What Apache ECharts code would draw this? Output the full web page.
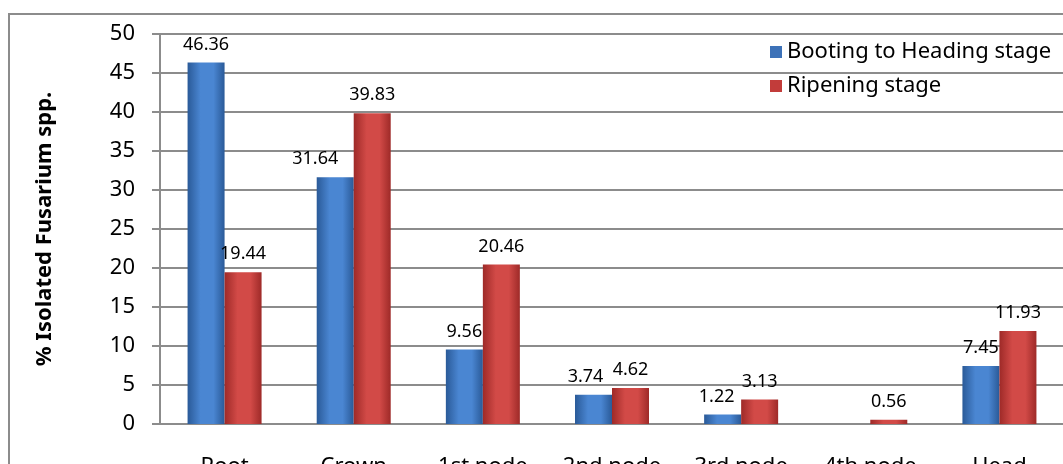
<!DOCTYPE html>
<html>
<head>
<meta charset="utf-8">
<script src="https://cdn.jsdelivr.net/npm/echarts@6/dist/echarts.min.js"></script>
<style>
  html, body { margin: 0; padding: 0; background: #fff; overflow: hidden; }
  #frame {
    position: absolute; left: 8px; top: 13px;
    width: 1100px; height: 500px;
    border: 2px solid #8c8c8c; box-sizing: border-box;
  }
  #chart { position: absolute; left: 0; top: 0; width: 1063px; height: 464px; }
</style>
</head>
<body>
<div id="frame"></div>
<div id="chart"></div>
<script>
// data
const categories = ['Root', 'Crown', '1st node', '2nd node', '3rd node', '4th node', 'Head']
const booting = [46.36, 31.64, 9.56, 3.74, 1.22, null, 7.45]
const ripening = [19.44, 39.83, 20.46, 4.62, 3.13, 0.56, 11.93]
const seriesNames = ['Booting to Heading stage', 'Ripening stage']

const font = 'Noto Sans'

function barGrad(dark, light) {
  return new echarts.graphic.LinearGradient(0, 0, 1, 0, [
    { offset: 0, color: dark },
    { offset: 0.35, color: light },
    { offset: 0.7, color: light },
    { offset: 1, color: dark }
  ])
}

const labelStyle = {
  show: true,
  position: 'top',
  distance: 9,
  color: '#000',
  fontFamily: font,
  fontSize: 18
}

// some labels sit a bit to the left in the original
const labelShift = { 1: -20, 3: -8, 4: -6 }
const bootingData = booting.map((v, i) =>
  labelShift[i] ? { value: v, label: { offset: [labelShift[i], 0] } } : v)

const chart = echarts.init(document.getElementById('chart'))
chart.setOption({
  animation: false,
  grid: { left: 160, right: -1, top: 34, bottom: 40, outerBoundsMode: 'none' },
  legend: {
    orient: 'vertical',
    left: 765,
    top: 36,
    itemWidth: 12,
    itemHeight: 12,
    itemGap: 12,
    textStyle: { fontFamily: font, fontSize: 22, color: '#000' },
    data: [
      { name: seriesNames[0], icon: 'rect', itemStyle: { color: '#3d72b8' } },
      { name: seriesNames[1], icon: 'rect', itemStyle: { color: '#c23c3a' } }
    ]
  },
  xAxis: {
    type: 'category',
    data: categories,
    axisLine: { lineStyle: { color: '#8c8c8c', width: 2 } },
    axisTick: { show: false },
    axisLabel: { margin: 32, fontFamily: font, fontSize: 22, color: '#000' }
  },
  yAxis: {
    type: 'value',
    min: 0,
    max: 50,
    interval: 5,
    name: '% Isolated Fusarium spp.',
    nameLocation: 'middle',
    nameGap: 104,
    nameRotate: 90,
    nameTextStyle: { fontFamily: font, fontSize: 22, fontWeight: 'bold', color: '#000' },
    axisLine: { show: true, lineStyle: { color: '#8c8c8c', width: 2 } },
    axisTick: { show: true, length: 8, lineStyle: { color: '#8c8c8c', width: 2 } },
    axisLabel: { margin: 25, fontFamily: font, fontSize: 22, color: '#000' },
    splitLine: { lineStyle: { color: '#8c8c8c', width: 2 } }
  },
  series: [
    {
      name: seriesNames[0],
      type: 'bar',
      data: bootingData,
      barWidth: 37,
      barGap: '0%',
      itemStyle: { color: barGrad('#2a5a98', '#4a86d2') },
      label: labelStyle
    },
    {
      name: seriesNames[1],
      type: 'bar',
      data: ripening,
      barWidth: 37,
      barGap: '0%',
      itemStyle: { color: barGrad('#9e2a28', '#d24a47') },
      label: labelStyle
    }
  ]
})
</script>
</body>
</html>
